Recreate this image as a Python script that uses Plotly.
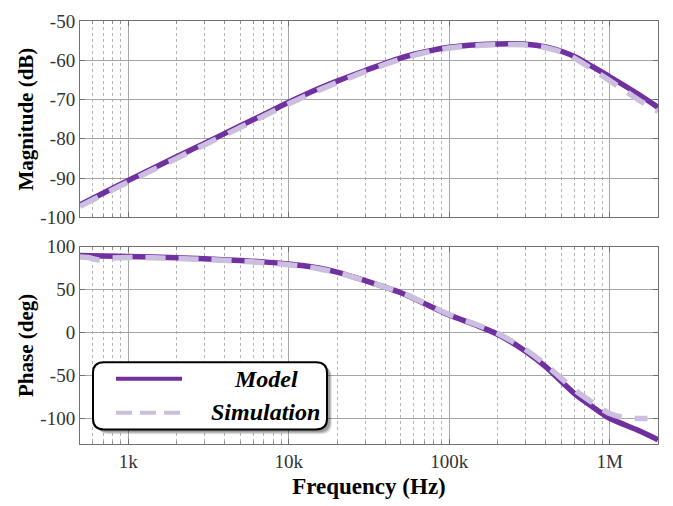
import plotly.graph_objects as go

# ---------------- data ----------------
freq = [500, 700, 1e3, 2e3, 3e3, 5e3, 7e3, 1e4, 1.5e4, 2e4, 3e4, 5e4, 7e4,
        1e5, 1.5e5, 2e5, 3e5, 4e5, 5e5, 6.2e5, 8e5, 1e6, 1.5e6, 2e6]
mag_model = [-96.8, -93.8, -90.6, -84.6, -81.1, -76.7, -73.8, -70.7, -67.4, -65.3,
             -62.6, -59.4, -57.9, -56.7, -56.05, -55.85, -55.9, -56.6, -57.7, -59.3,
             -61.9, -64.2, -68.6, -72.0]
freq_sim_mag = [500, 700, 1e3, 2e3, 3e3, 5e3, 7e3, 1e4, 1.5e4, 2e4, 3e4, 5e4, 7e4,
                1e5, 1.5e5, 2e5, 3e5, 4e5, 5e5, 6.2e5, 8e5, 1e6, 1.27e6, 1.5e6, 2e6]
mag_sim = [-97.2, -94.2, -91.0, -85.0, -81.5, -77.1, -74.2, -71.1, -67.8, -65.7,
           -62.9, -59.7, -58.1, -56.9, -56.25, -56.05, -56.1, -56.8, -57.9, -59.8,
           -62.6, -65.2, -68.0, -70.0, -73.0]
phase_model = [89.8, 89.2, 88.7, 87.3, 86.0, 84.0, 82.3, 80.0, 75.5, 70.5,
               60.5, 46.5, 34.0, 20.5, 8.0, -2.0, -22.0, -40.0, -57.0, -73.0,
               -88.0, -100.0, -114.0, -125.0]
freq_sim_ph = [500, 560, 640, 800, 1e3, 2e3, 3e3, 5e3, 7e3, 1e4, 1.5e4, 2e4, 3e4,
               5e4, 7e4, 1e5, 1.5e5, 2e5, 3e5, 4e5, 5e5, 6.2e5, 8e5, 1e6,
               1.27e6, 1.5e6, 1.72e6]
phase_sim = [88.0, 87.6, 85.0, 87.0, 87.6, 86.4, 85.2, 83.2, 81.5, 79.2, 74.8,
             70.0, 60.3, 46.8, 34.5, 21.0, 8.8, -0.8, -20.0, -37.5, -53.5,
             -68.5, -83.0, -94.5, -99.8, -100.3, -100.3]

x_tickvals = [1e3, 1e4, 1e5, 1e6]
x_ticktext = ["1k", "10k", "100k", "1M"]
mag_ticks = [-100, -90, -80, -70, -60, -50]
phase_ticks = [-100, -50, 0, 50, 100]

legend_labels = ["Model", "Simulation"]
c_model = "#7030a0"
c_sim = "#cbbedf"

# ---------------- figure ----------------
W, H = 673, 506
ML, MR, MT, MB = 80, 15, 11, 61
PW, PH = W - ML - MR, H - MT - MB

minor_vals = [m * 10 ** e for e in range(2, 7) for m in range(2, 10)]
minor_vals = [v for v in minor_vals if 500 <= v <= 2e6]

FONT = "Times New Roman, Liberation Serif, DejaVu Serif, serif"

fig = go.Figure()
fig.add_trace(go.Scatter(x=freq, y=mag_model, mode="lines", xaxis="x", yaxis="y",
                         line=dict(color=c_model, width=5.5, shape="spline", smoothing=0.8),
                         name=legend_labels[0], showlegend=False))
fig.add_trace(go.Scatter(x=freq_sim_mag, y=mag_sim, mode="lines", xaxis="x", yaxis="y",
                         line=dict(color=c_sim, width=5.5, dash="20px,13px", shape="spline", smoothing=0.8),
                         name=legend_labels[1], showlegend=False))
fig.add_trace(go.Scatter(x=freq, y=phase_model, mode="lines", xaxis="x2", yaxis="y2",
                         line=dict(color=c_model, width=5.5, shape="spline", smoothing=0.8),
                         name=legend_labels[0], showlegend=False))
fig.add_trace(go.Scatter(x=freq_sim_ph, y=phase_sim, mode="lines", xaxis="x2", yaxis="y2",
                         line=dict(color=c_sim, width=5.5, dash="20px,13px", shape="spline", smoothing=0.8),
                         name=legend_labels[1], showlegend=False))

top_dom = [1 - 201.4 / PH, 1]
bot_dom = [0, 202.3 / PH]

def xax(anchor, labels):
    return dict(type="log", range=[2.699, 6.301], anchor=anchor,
                tickvals=x_tickvals, ticktext=x_ticktext,
                showticklabels=labels,
                showgrid=True, gridcolor="#a6a6a6", gridwidth=1,
                showline=True, linecolor="#707070", linewidth=1, mirror="ticks",
                ticks="inside", ticklen=5, tickcolor="#707070",
                minor=dict(tickvals=minor_vals, showgrid=True, gridcolor="#b4b4b4",
                           griddash="dot", gridwidth=1, ticks="inside", ticklen=3,
                           tickcolor="#909090"),
                tickfont=dict(family=FONT, size=19, color="#333333"),
                zeroline=False)

def yax(anchor, dom, rng, ticks, title):
    return dict(domain=dom, range=rng, anchor=anchor, tickvals=ticks,
                ticktext=[str(t) for t in ticks],
                showgrid=True, gridcolor="#a6a6a6", gridwidth=1,
                showline=True, linecolor="#707070", linewidth=1, mirror="ticks",
                ticks="inside", ticklen=5, tickcolor="#707070",
                tickfont=dict(family=FONT, size=19, color="#333333"),
                title=dict(text=title, font=dict(family=FONT, size=21, color="black", weight="bold"),
                           standoff=1),
                zeroline=False)

fig.update_layout(
    width=W, height=H, margin=dict(l=ML, r=MR, t=MT, b=MB),
    paper_bgcolor="white", plot_bgcolor="white",
    font=dict(family=FONT),
    xaxis=xax("y", False),
    yaxis=yax("x", top_dom, [-100, -50], mag_ticks, "Magnitude (dB)"),
    xaxis2=dict(xax("y2", True), title=dict(text="Frequency (Hz)",
                font=dict(family=FONT, size=23, color="black", weight="bold"), standoff=7)),
    yaxis2=yax("x2", bot_dom, [-130, 100], phase_ticks, "Phase (deg)"),
    showlegend=False,
)

# ---------------- custom rounded legend ----------------
def px(x):
    return (x - ML) / PW

def py(y):
    return 1 - (y - MT) / PH

def rounded(x0, y0, x1, y1, r):
    X0, X1 = px(x0), px(x1)
    rx, ry = r / PW, r / PH
    Y0, Y1 = py(y0), py(y1)  # Y0 top (larger), Y1 bottom
    return (f"M {X0+rx},{Y0} L {X1-rx},{Y0} Q {X1},{Y0} {X1},{Y0-ry} "
            f"L {X1},{Y1+ry} Q {X1},{Y1} {X1-rx},{Y1} L {X0+rx},{Y1} "
            f"Q {X0},{Y1} {X0},{Y1+ry} L {X0},{Y0-ry} Q {X0},{Y0} {X0+rx},{Y0} Z")

shapes = []
for off, op in [(5, 0.10), (4, 0.15), (3, 0.2)]:
    shapes.append(dict(type="path", xref="paper", yref="paper",
                       path=rounded(93 + off, 361 + off, 327 + off, 430 + off, 11),
                       fillcolor=f"rgba(0,0,0,{op})", line=dict(width=0), layer="above"))
shapes.append(dict(type="path", xref="paper", yref="paper",
                   path=rounded(93, 361, 327, 430, 11),
                   fillcolor="white", line=dict(color="black", width=2), layer="above"))
shapes.append(dict(type="line", xref="paper", yref="paper",
                   x0=px(116), x1=px(182), y0=py(378), y1=py(378),
                   line=dict(color=c_model, width=4), layer="above"))
shapes.append(dict(type="line", xref="paper", yref="paper",
                   x0=px(116), x1=px(182), y0=py(413), y1=py(413),
                   line=dict(color=c_sim, width=4, dash="16px,8px"), layer="above"))
fig.update_layout(shapes=shapes)

fig.add_annotation(xref="paper", yref="paper", x=px(266), y=py(378), text="Model",
                   showarrow=False, xanchor="center", yanchor="middle",
                   font=dict(family=FONT, size=24, color="black", weight="bold", style="italic"))
fig.add_annotation(xref="paper", yref="paper", x=px(265), y=py(412), text="Simulation",
                   showarrow=False, xanchor="center", yanchor="middle",
                   font=dict(family=FONT, size=24, color="black", weight="bold", style="italic"))

fig.write_html("out.html")
